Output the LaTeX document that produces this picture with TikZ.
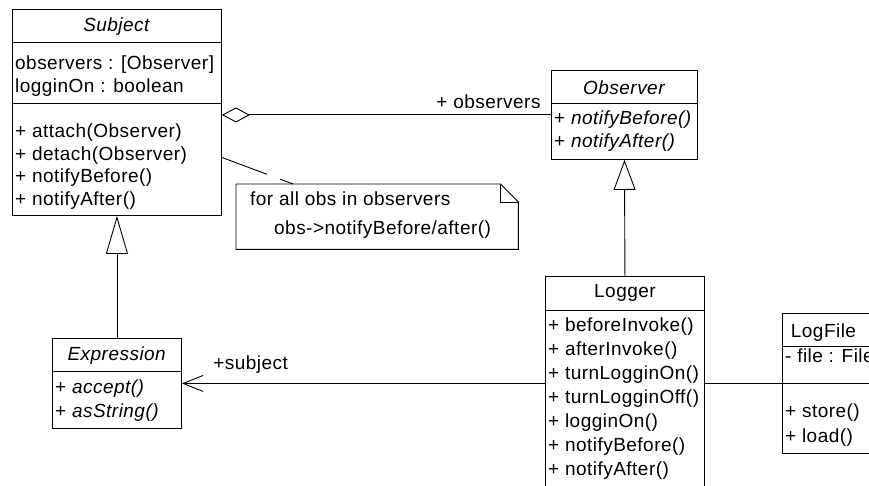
\documentclass[tikz,border=0pt]{standalone}
\usepackage{fontspec}
\setmainfont[LetterSpace=2.5]{Liberation Sans}
\usetikzlibrary{arrows.meta,positioning}

\tikzset{
  classbox/.style={draw, rectangle, anchor=north west, inner sep=0pt, line width=0.9pt},
  classname/.style={inner sep=0pt},
  members/.style={anchor=north west, align=left, inner sep=0pt},
  divider/.style={line width=0.9pt},
  inherit/.style={-{Triangle[open,length=#1,width=22pt]}, line width=0.9pt},
  aggregation/.style={-{Diamond[open,length=28pt,width=15pt]}, line width=0.9pt},
  navigable/.style={-{Straight Barb[length=20pt,width=16pt]}, line width=0.9pt},
  plainlink/.style={line width=0.9pt},
  notelink/.style={line width=0.9pt, dash pattern=on 48pt off 14pt},
  rolelabel/.style={inner sep=0pt}
}

\begin{document}
\begin{tikzpicture}[x=1pt, y=-1pt, font=\fontsize{19}{22.5}\selectfont]
   \useasboundingbox (0,0) rectangle (869,486);

   \node[classbox, minimum width=209pt, minimum height=206pt] (subject) at (12,9) {};
   \node[classname] (subjectname) at ([yshift=-18pt]subject.north) {\textit{Subject}};
   \draw[divider] ([yshift=-33pt]subject.north west) -- ([yshift=-33pt]subject.north east);
   \draw[divider] ([yshift=-94pt]subject.north west) -- ([yshift=-94pt]subject.north east);
   \node[members] (subjectattr) at ([xshift=3pt, yshift=-47pt]subject.north west)
      {observers : [Observer]\\ logginOn : boolean};
   \node[members] (subjectops) at ([xshift=3pt, yshift=-115pt]subject.north west)
      {+ attach(Observer)\\ + detach(Observer)\\ + notifyBefore()\\ + notifyAfter()};

   \node[classbox, minimum width=146pt, minimum height=89pt] (observer) at (551,70) {};
   \node[classname] (observername) at ([yshift=-18pt]observer.north) {\textit{Observer}};
   \draw[divider] ([yshift=-33pt]observer.north west) -- ([yshift=-33pt]observer.north east);
   \node[members] (observerops) at ([xshift=3pt, yshift=-41pt]observer.north west)
      {+ \textit{notifyBefore()}\\ + \textit{notifyAfter()}};

   \node[classbox, minimum width=129pt, minimum height=90pt] (expression) at (52,338) {};
   \node[classname] (expressionname) at ([yshift=-18pt]expression.north) {\textit{Expression}};
   \draw[divider] ([yshift=-33pt]expression.north west) -- ([yshift=-33pt]expression.north east);
   \node[members, font=\fontsize{19}{23.5}\selectfont] (expressionops)
      at ([xshift=3pt, yshift=-42pt]expression.north west)
      {+ \textit{accept()}\\ + \textit{asString()}};

   \node[classbox, minimum width=159pt, minimum height=220pt] (logger) at (545,276) {};
   \node[classname] (loggername) at ([yshift=-17pt]logger.north) {Logger};
   \draw[divider] ([yshift=-34pt]logger.north west) -- ([yshift=-34pt]logger.north east);
   \node[members, font=\fontsize{19}{24}\selectfont] (loggerops)
      at ([xshift=3pt, yshift=-42pt]logger.north west)
      {+ beforeInvoke()\\ + afterInvoke()\\ + turnLogginOn()\\ + turnLogginOff()\\
       + logginOn()\\ + notifyBefore()\\ + notifyAfter()};

   \node[classbox, minimum width=110pt, minimum height=140pt] (logfile) at (782,313) {};
   \node[classname] (logfilename) at ([xshift=41.5pt, yshift=-20pt]logfile.north west) {LogFile};
   \draw[divider] ([yshift=-33pt]logfile.north west) -- ([yshift=-33pt]logfile.north east);
   \draw[divider] ([yshift=-70pt]logfile.north west) -- ([yshift=-70pt]logfile.north east);
   \node[members] (logfileattr) at ([xshift=3pt, yshift=-36pt]logfile.north west) {- file : File};
   \node[members, font=\fontsize{19}{24.5}\selectfont] (logfileops)
      at ([xshift=3pt, yshift=-91pt]logfile.north west)
      {+ store()\\ + load()};

   \node[minimum width=282pt, minimum height=65pt, anchor=north west, inner sep=0pt] (note) at (236,184) {};
   \draw[line width=0.9pt] (note.south west) -- (note.north west) -- ([xshift=-18pt]note.north east)
      -- ([yshift=-18pt]note.north east) -- (note.south east) -- cycle;
   \draw[line width=0.9pt] ([xshift=-18pt]note.north east) -- ([xshift=-18pt, yshift=-18pt]note.north east)
      -- ([yshift=-18pt]note.north east);
   \node[anchor=base west, inner sep=0pt] (noteline1) at ([xshift=14pt, yshift=-22pt]note.north west)
      {for all obs in observers};
   \node[anchor=base west, inner sep=0pt] (noteline2) at ([xshift=38pt, yshift=-51pt]note.north west)
      {obs->notifyBefore/after()};

   \draw[notelink] ([yshift=-45pt]subject.east) -- ([xshift=57pt]note.north west);
   \draw[aggregation] (observer.west)
      -- node[rolelabel, pos=0, anchor=base east, xshift=-10pt, yshift=6.5pt] (observersrole) {+ observers}
      (observer.west -| subject.east);
   \draw[inherit=30pt] (logger.north) -- (observer.south);
   \draw[inherit=38pt] (expression.north) -- (subject.south);
   \draw[navigable] (logger.west |- expression.east)
      -- node[rolelabel, pos=1, anchor=base west, xshift=31pt, yshift=14pt] (subjectrole) {+subject}
      (expression.east);
   \draw[plainlink] (logger.east |- logfile.west) -- (logfile.west);
\end{tikzpicture}
\end{document}
